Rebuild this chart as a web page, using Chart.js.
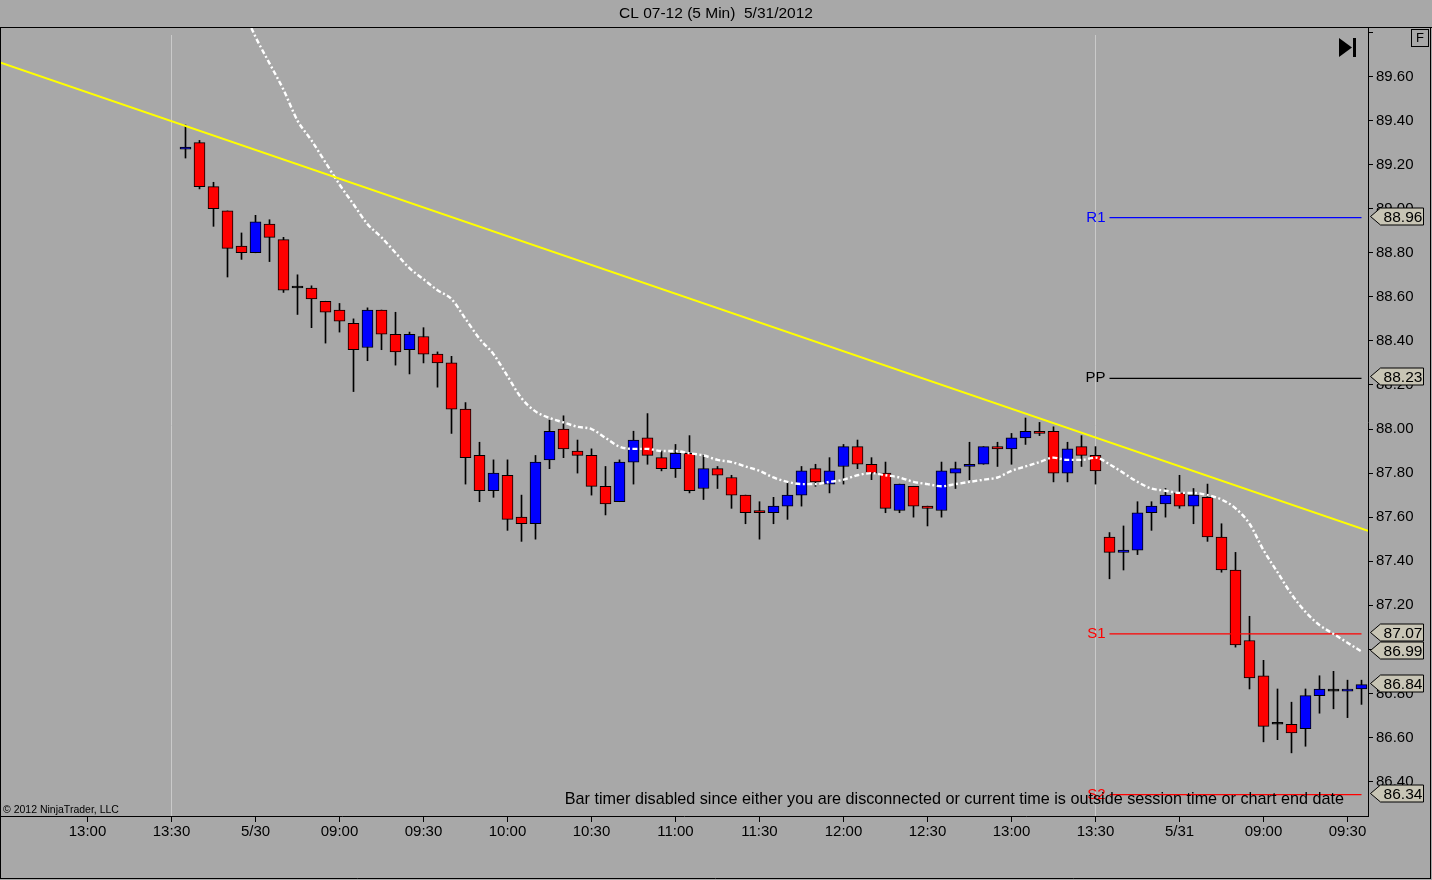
<!DOCTYPE html>
<html><head><meta charset="utf-8">
<script src="https://cdn.jsdelivr.net/npm/chart.js@4/dist/chart.umd.min.js"></script>
<style>html,body{margin:0;padding:0;background:#A8A8A8;overflow:hidden}canvas{display:block}</style>
</head><body>
<canvas id="c" width="1432" height="880"></canvas>
<script>
const FONT = '"Liberation Sans", Arial, sans-serif';

// x-axis ticks (bar index -> label)
const tickIndex  = [-7, -1, 5, 11, 17, 23, 29, 35, 41, 47, 53, 59, 65, 71, 77, 83];
const tickLabels = ['13:00','13:30','5/30','09:00','09:30','10:00','10:30','11:00','11:30','12:00','12:30','13:00','13:30','5/31','09:00','09:30'];

// OHLC, 5-minute bars, index 0..84
const openP  = [89.27,89.30,89.10,88.99,88.83,88.80,88.93,88.86,88.64,88.64,88.58,88.54,88.48,88.37,88.54,88.43,88.36,88.42,88.34,88.30,
                88.09,87.88,87.72,87.79,87.60,87.57,87.86,88.00,87.90,87.88,87.74,87.67,87.85,87.96,87.87,87.82,87.89,87.73,87.82,87.78,
                87.70,87.63,87.62,87.65,87.70,87.82,87.75,87.83,87.92,87.84,87.80,87.63,87.74,87.65,87.63,87.80,87.83,87.84,87.92,87.91,
                87.96,87.99,87.99,87.80,87.92,87.88,87.51,87.44,87.45,87.62,87.66,87.71,87.65,87.69,87.51,87.36,87.04,86.88,86.66,86.66,
                86.64,86.79,86.81,86.81,86.82];
const highP  = [89.38,89.31,89.12,88.99,88.89,88.97,88.95,88.87,88.70,88.65,88.58,88.57,88.50,88.55,88.54,88.53,88.44,88.46,88.35,88.33,
                88.12,87.94,87.86,87.86,87.70,87.88,88.04,88.06,87.95,87.91,87.83,87.86,87.99,88.07,87.90,87.93,87.97,87.88,87.83,87.79,
                87.70,87.67,87.69,87.76,87.83,87.84,87.87,87.93,87.95,87.87,87.85,87.75,87.74,87.65,87.85,87.85,87.94,87.92,87.94,87.98,
                88.05,88.03,88.01,87.94,87.97,87.92,87.53,87.56,87.67,87.67,87.73,87.79,87.73,87.75,87.57,87.44,87.15,86.95,86.82,86.76,
                86.82,86.88,86.90,86.86,86.86];
const lowP   = [89.23,89.09,88.92,88.69,88.77,88.80,88.76,88.62,88.52,88.46,88.39,88.44,88.17,88.31,88.36,88.29,88.25,88.30,88.19,87.98,
                87.75,87.67,87.69,87.54,87.49,87.50,87.82,87.87,87.80,87.70,87.61,87.67,87.75,87.84,87.81,87.78,87.71,87.68,87.73,87.64,
                87.57,87.50,87.57,87.59,87.65,87.74,87.71,87.75,87.82,87.77,87.62,87.62,87.60,87.56,87.60,87.73,87.77,87.84,87.83,87.84,
                87.93,87.97,87.76,87.76,87.83,87.75,87.32,87.36,87.43,87.54,87.60,87.64,87.57,87.49,87.35,87.01,86.82,86.58,86.59,86.53,
                86.56,86.71,86.73,86.69,86.75];
const closeP = [89.28,89.10,89.00,88.82,88.80,88.94,88.87,88.63,88.64,88.59,88.53,88.49,88.36,88.54,88.43,88.35,88.43,88.34,88.30,88.09,
                87.87,87.72,87.80,87.59,87.57,87.85,87.99,87.91,87.88,87.74,87.66,87.85,87.95,87.88,87.82,87.89,87.72,87.82,87.79,87.70,
                87.62,87.62,87.65,87.70,87.81,87.76,87.81,87.92,87.84,87.80,87.64,87.75,87.65,87.64,87.81,87.82,87.84,87.92,87.91,87.96,
                87.99,87.98,87.80,87.91,87.88,87.81,87.44,87.45,87.62,87.65,87.70,87.65,87.70,87.51,87.36,87.02,86.87,86.65,86.66,86.62,
                86.79,86.82,86.81,86.82,86.84];

// moving average (white dash-dot)
const smaValues = [null,null,null,null,89.92,89.78,89.66,89.54,89.40,89.31,89.21,89.11,89.02,88.93,88.87,88.80,88.73,88.68,88.63,88.59,
                   88.50,88.41,88.34,88.24,88.14,88.08,88.05,88.03,88.01,88.00,87.96,87.92,87.91,87.91,87.90,87.90,87.89,87.88,87.86,87.85,
                   87.83,87.81,87.78,87.76,87.75,87.75,87.76,87.77,87.79,87.80,87.79,87.78,87.76,87.75,87.74,87.75,87.76,87.77,87.78,87.81,
                   87.83,87.85,87.87,87.86,87.86,87.87,87.84,87.80,87.76,87.73,87.72,87.71,87.71,87.70,87.68,87.64,87.57,87.45,87.35,87.25,
                   87.17,87.11,87.07,87.03,86.99];

// pivots for current session
const pivotNames  = ['R1', 'PP', 'S1', 'S2'];
const pivotValues = [88.96, 88.23, 87.07, 86.34];
const pivotFrom = 66, pivotTo = 84;

// trend line end points (bar index, price)
const trendX = [-13.25, 84.464];
const trendY = [89.664, 87.538];

// session break bars
const sessionBreaks = [-1, 65];

const titleText = 'CL 07-12 (5 Min)  5/31/2012';
const timerText = 'Bar timer disabled since either you are disconnected or current time is outside session time or chart end date';
const copyText = '\u00A9 2012 NinjaTrader, LLC';

// ---- build datasets ----
const idx = openP.map((_, i) => i);
const bodyColors = idx.map(i => closeP[i] > openP[i] ? '#0000FF' : (closeP[i] < openP[i] ? '#FF0000' : '#000000'));
const pivotColors = ['#0000FF', '#000000', '#FF0000', '#FF0000'];

const datasets = [
  { type: 'bar', label: 'wick', data: idx.map(i => ({x: i, y: [lowP[i], highP[i]]})),
    backgroundColor: '#000', borderWidth: 0, barThickness: 1, grouped: false, order: 3 },
  { type: 'bar', label: 'body', data: idx.map(i => ({x: i, y: [openP[i], closeP[i]]})),
    backgroundColor: bodyColors, borderColor: '#000', borderWidth: 1, borderSkipped: false,
    barThickness: 11, minBarLength: 2, grouped: false, order: 2 },
  { type: 'line', label: 'sma', data: idx.map(i => ({x: i, y: smaValues[i]})),
    borderColor: '#FFFFFF', borderWidth: 2.4, borderDash: [5, 2.5, 2, 2.5], pointRadius: 0,
    cubicInterpolationMode: 'monotone', spanGaps: false, order: 1 },
  { type: 'line', label: 'trend', data: trendX.map((v, i) => ({x: v, y: trendY[i]})),
    borderColor: '#FFFF00', borderWidth: 2, pointRadius: 0, order: 0 }
];
pivotValues.forEach((v, i) => datasets.push({
  type: 'line', label: pivotNames[i], data: [{x: pivotFrom, y: v}, {x: pivotTo, y: v}],
  borderColor: pivotColors[i], borderWidth: 1.2, pointRadius: 0, order: 1
}));

const decor = {
  id: 'decor',
  beforeDatasetsDraw(chart) {
    const {ctx, chartArea: a, scales: {x}} = chart;
    ctx.save();
    ctx.strokeStyle = '#CACACA'; ctx.lineWidth = 1;
    sessionBreaks.forEach(v => {
      const px = Math.floor(x.getPixelForValue(v)) + 0.5;
      ctx.beginPath(); ctx.moveTo(px, a.top + 7); ctx.lineTo(px, a.bottom); ctx.stroke();
    });
    ctx.restore();
  },
  afterDraw(chart) {
    const {ctx, chartArea: a, scales: {x, y}} = chart;
    ctx.save();
    // pivot labels
    ctx.font = '15px ' + FONT; ctx.textAlign = 'right'; ctx.textBaseline = 'middle';
    pivotNames.forEach((n, i) => {
      ctx.fillStyle = pivotColors[i];
      ctx.fillText(n, x.getPixelForValue(pivotFrom) - 4, y.getPixelForValue(pivotValues[i]));
    });
    // bar timer
    ctx.fillStyle = '#000';
    ctx.font = '16.2px ' + FONT;
    ctx.fillText(timerText, 1344, 800);
    // copyright
    ctx.font = '10.5px ' + FONT; ctx.textAlign = 'left';
    ctx.fillText(copyText, 3, 810);
    // price markers
    const markerVals = [...pivotValues, smaValues[smaValues.length - 1], closeP[closeP.length - 1]];
    ctx.font = '15.5px ' + FONT; ctx.textAlign = 'center';
    markerVals.forEach(v => {
      const cy = Math.round(y.getPixelForValue(v)) - 1.5;
      const l = a.right + 2.5, b = a.right + 12.5, r = a.right + 55.5;
      ctx.beginPath();
      ctx.moveTo(l, cy); ctx.lineTo(b, cy - 8.5); ctx.lineTo(r, cy - 8.5);
      ctx.lineTo(r, cy + 8.5); ctx.lineTo(b, cy + 8.5); ctx.closePath();
      ctx.fillStyle = '#C8C5B5'; ctx.fill();
      ctx.strokeStyle = '#000'; ctx.lineWidth = 1; ctx.stroke();
      ctx.fillStyle = '#000';
      ctx.fillText(v.toFixed(2), (b + r) / 2 + 1, cy + 1);
    });
    // go-to-end icon
    ctx.fillStyle = '#000';
    ctx.beginPath(); ctx.moveTo(1339, 38); ctx.lineTo(1339, 57); ctx.lineTo(1352, 47.5); ctx.closePath(); ctx.fill();
    ctx.fillRect(1353, 38, 3, 19);
    // F box
    ctx.strokeStyle = '#000'; ctx.lineWidth = 1;
    ctx.strokeRect(1411.5, 29.5, 17, 17);
    ctx.font = '13px ' + FONT; ctx.fillText('F', 1420, 38.5);
    // frame
    ctx.beginPath();
    ctx.moveTo(0, 27.5); ctx.lineTo(1432, 27.5);
    ctx.moveTo(0.5, 27); ctx.lineTo(0.5, 879);
    ctx.moveTo(0, 878.5); ctx.lineTo(1431, 878.5);
    ctx.moveTo(1430.5, 27); ctx.lineTo(1430.5, 879);
    ctx.stroke();
    ctx.restore();
  }
};

new Chart(document.getElementById('c'), {
  type: 'bar',
  data: { datasets },
  plugins: [decor],
  options: {
    responsive: false, animation: false, devicePixelRatio: 1,
    layout: { padding: 0 },
    plugins: {
      legend: { display: false }, tooltip: { enabled: false },
      title: { display: true, text: titleText, color: '#000',
               font: { family: FONT, size: 15.5, weight: 'normal', lineHeight: '16px' },
               padding: { top: 6, bottom: 6 } }
    },
    scales: {
      x: {
        type: 'linear', position: 'bottom', min: -13.25, max: 84.464, offset: false,
        afterBuildTicks: s => { s.ticks = tickIndex.map(v => ({ value: v })); },
        afterFit: s => { s.height = 64; },
        ticks: { autoSkip: false, maxRotation: 0, color: '#000', padding: 1,
                 font: { family: FONT, size: 15 },
                 callback: v => { const k = tickIndex.indexOf(v); return k >= 0 ? tickLabels[k] : ''; } },
        grid: { offset: false, drawOnChartArea: false, drawTicks: true, tickLength: 6, color: '#000' },
        border: { display: true, color: '#000', width: 1 }
      },
      y: {
        type: 'linear', position: 'right', min: 86.2434, max: 89.8203,
        afterFit: s => { s.width = 64; },
        ticks: { stepSize: 0.2, includeBounds: false, color: '#000', padding: 3,
                 font: { family: FONT, size: 15 },
                 callback: v => v > 89.75 ? '' : Number(v).toFixed(2) },
        grid: { offset: false, drawOnChartArea: false, drawTicks: true, tickLength: 5, color: '#000' },
        border: { display: true, color: '#000', width: 1 }
      }
    }
  }
});
</script>
</body></html>
